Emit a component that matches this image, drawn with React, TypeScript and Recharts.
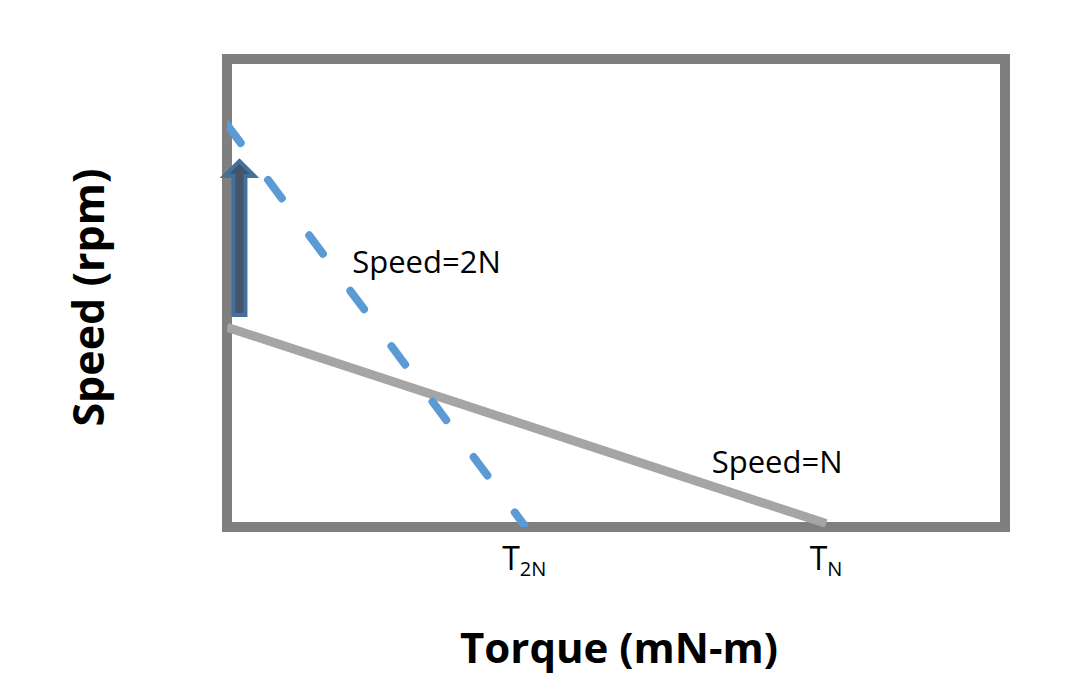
import React from 'react';
import { LineChart, Line, XAxis, YAxis, ReferenceArea, ReferenceDot, Label } from 'recharts';

// Torque (x) and speed (y) values, in percent of the axis range
const torqueSpeedN = [0, 77];
const speedSpeedN = [42.7, 0.75];
const torqueSpeed2N = [0, 38.2];
const speedSpeed2N = [86, 0.4];

const tickValues = [38.2, 77];
const tickMain = ['T', 'T'];
const tickSub = ['2N', 'N'];

const seriesLabels = ['Speed=2N', 'Speed=N'];
const labelTorque = [16.1, 62.3];
const labelSpeed = [54.3, 11.5];

const arrowTorque = [1.5, 1.7];
const arrowSpeed = [45.3, 78.2];

const xTitle = 'Torque (mN-m)';
const yTitle = 'Speed (rpm)';

const dataN = torqueSpeedN.map((x, i) => ({ x, y: speedSpeedN[i] }));
const data2N = torqueSpeed2N.map((x, i) => ({ x, y: speedSpeed2N[i] }));

const FONT = '"Open Sans", sans-serif';

const Tick = (props: any) => {
  const { x, y, index } = props;
  return (
    <text x={x} y={y + 43} textAnchor="middle" fontFamily={FONT} fill="#000">
      <tspan fontSize={32}>{tickMain[index]}</tspan>
      <tspan fontSize={20} dy={6}>{tickSub[index]}</tspan>
    </text>
  );
};

const ArrowShape = (props: any) => {
  const { x, y, width, height } = props;
  const cx = x + width / 2;
  const top = y;
  const bottom = y + height;
  const sw = 6;
  const hw = 15;
  const hh = 15;
  const pts = [
    [cx - sw, bottom],
    [cx - sw, top + hh],
    [cx - hw, top + hh],
    [cx, top],
    [cx + hw, top + hh],
    [cx + sw, top + hh],
    [cx + sw, bottom],
  ]
    .map((p) => p.join(','))
    .join(' ');
  return <polygon points={pts} fill="#44546A" stroke="#41719C" strokeWidth={4} />;
};

const FrameShape = (props: any) => {
  const { x, y, width, height } = props;
  return <rect x={x} y={y} width={width} height={height} fill="none" stroke="#7F7F7F" strokeWidth={10} />;
};

const makeTextShape = (text: string) => (props: any) => (
  <text x={props.cx} y={props.cy} fontFamily={FONT} fontSize={31} fill="#000" textAnchor="start">
    {text}
  </text>
);

export default function App() {
  return (
    <div style={{ width: 1080, height: 680, background: '#fff' }}>
      <LineChart
        width={1080}
        height={680}
        margin={{ top: 51, right: 83, bottom: 121, left: 159 }}
      >
        <ReferenceArea x1={0} x2={100} y1={0} y2={100} ifOverflow="visible" shape={FrameShape} />
        <XAxis
          dataKey="x"
          type="number"
          domain={[0, 100]}
          allowDataOverflow
          ticks={tickValues}
          tick={Tick}
          tickLine={false}
          axisLine={false}
          tickSize={0}
          tickMargin={0}
          height={40}
          interval={0}
        >
          <Label
            content={(p: any) => {
              const vb = p.viewBox;
              return (
                <text
                  x={vb.x + vb.width / 2 + 3}
                  y={vb.y + 136}
                  textAnchor="middle"
                  fontFamily={FONT}
                  fontWeight="bold"
                  fontSize={42}
                  fill="#000"
                >
                  {xTitle}
                </text>
              );
            }}
          />
        </XAxis>
        <YAxis
          type="number"
          domain={[0, 100]}
          allowDataOverflow
          tick={false}
          tickLine={false}
          axisLine={false}
          width={60}
        >
          <Label
            content={(p: any) => {
              const vb = p.viewBox;
              const cx = vb.x - 63;
              const cy = vb.y + vb.height / 2 + 4.5;
              return (
                <text
                  x={cx}
                  y={cy}
                  transform={`rotate(-90, ${cx}, ${cy})`}
                  textAnchor="middle"
                  fontFamily={FONT}
                  fontWeight="bold"
                  fontSize={43}
                  fill="#000"
                >
                  {yTitle}
                </text>
              );
            }}
          />
        </YAxis>
        <Line
          data={dataN}
          dataKey="y"
          stroke="#A5A5A5"
          strokeWidth={9}
          dot={false}
          activeDot={false}
          isAnimationActive={false}
        />
        <Line
          data={data2N}
          dataKey="y"
          stroke="#5B9BD5"
          strokeWidth={8}
          strokeDasharray="23 46"
          strokeLinecap="round"
          dot={false}
          activeDot={false}
          isAnimationActive={false}
        />
        <ReferenceArea
          x1={arrowTorque[0]}
          x2={arrowTorque[1]}
          y1={arrowSpeed[0]}
          y2={arrowSpeed[1]}
          ifOverflow="visible"
          shape={ArrowShape}
        />
        <ReferenceDot
          x={labelTorque[0]}
          y={labelSpeed[0]}
          ifOverflow="visible"
          shape={makeTextShape(seriesLabels[0])}
        />
        <ReferenceDot
          x={labelTorque[1]}
          y={labelSpeed[1]}
          ifOverflow="visible"
          shape={makeTextShape(seriesLabels[1])}
        />
      </LineChart>
    </div>
  );
}
